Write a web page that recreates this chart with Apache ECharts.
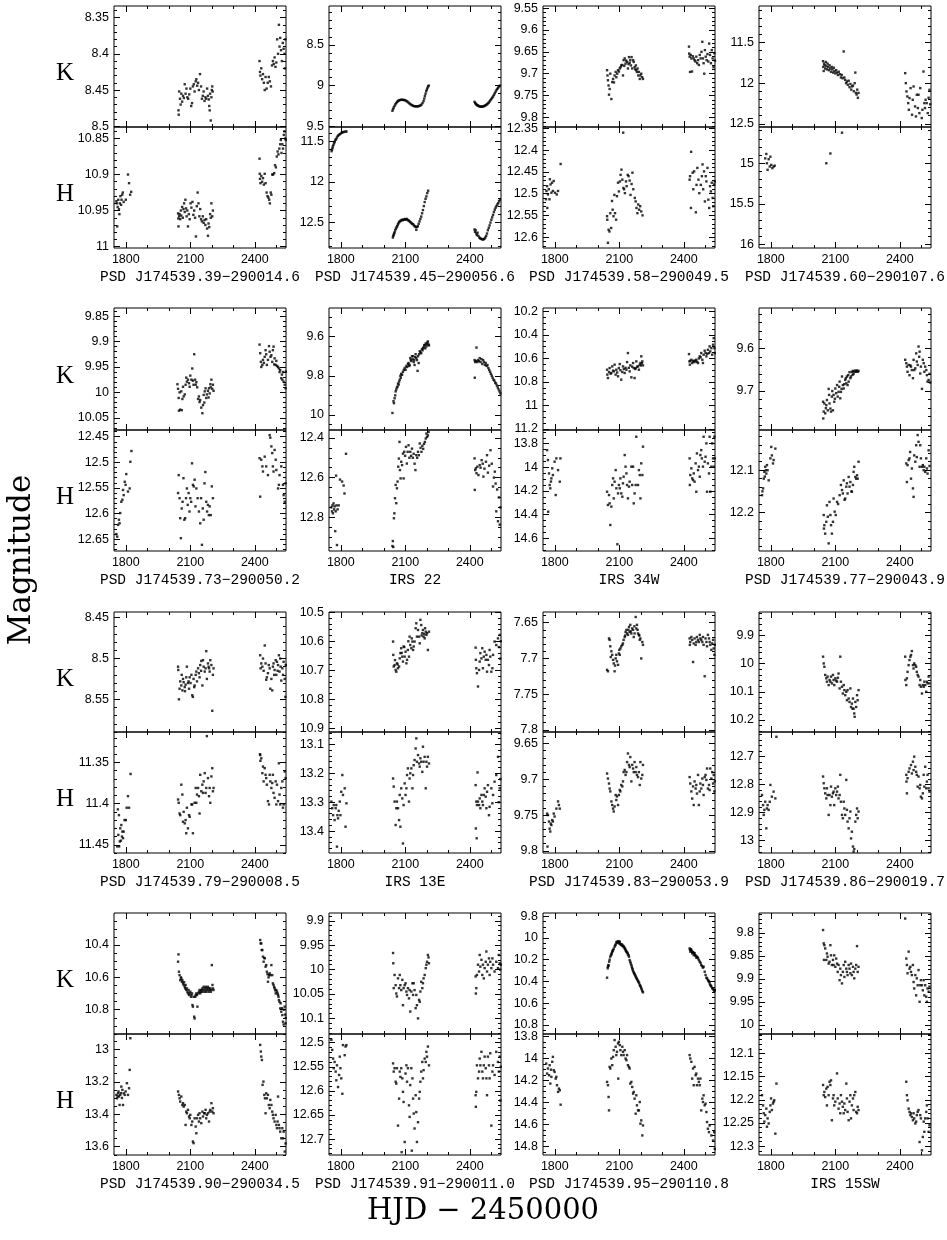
<!DOCTYPE html>
<html><head><meta charset="utf-8">
<script src="https://cdn.jsdelivr.net/npm/echarts@6/dist/echarts.min.js"></script>
<style>html,body{margin:0;padding:0;background:#fff}#c{width:947px;height:1240px}</style>
</head><body><div id="c"></div>
<script>
const XMIN = 1745, XMAX = 2545;
const X_TICKS = [1800, 2100, 2400];
const X_MINOR = [1900, 2000, 2200, 2300, 2500];
const NAMES = ["PSD J174539.39\u2212290014.6","PSD J174539.45\u2212290056.6","PSD J174539.58\u2212290049.5","PSD J174539.60\u2212290107.6",
"PSD J174539.73\u2212290050.2","IRS 22","IRS 34W","PSD J174539.77\u2212290043.9",
"PSD J174539.79\u2212290008.5","IRS 13E","PSD J174539.83\u2212290053.9","PSD J174539.86\u2212290019.7",
"PSD J174539.90\u2212290034.5","PSD J174539.91\u2212290011.0","PSD J174539.95\u2212290110.8","IRS 15SW"];
const K_RANGE = [[8.334,8.501],[8.02,9.51],[9.545,9.822],[11.05,12.54],[9.834,10.074],[9.454,10.077],[10.17,11.21],[9.506,9.791],
[8.443,8.59],[10.499,10.913],[7.635,7.803],[9.816,10.243],[10.202,10.95],[9.884,10.132],[9.772,10.883],[9.757,10.02]];
const H_RANGE = [[10.834,11.002],[11.32,12.82],[12.347,12.625],[14.555,16.04],[12.437,12.673],[12.36,12.97],[13.684,14.707],[12.005,12.291],
[11.313,11.46],[13.057,13.476],[9.634,9.803],[12.612,13.044],[12.906,13.651],[12.482,12.733],[13.775,14.876],[12.058,12.319]];
const K_TICKS = [[8.35,8.4,8.45,8.5],[8.5,9,9.5],[9.55,9.6,9.65,9.7,9.75,9.8],[11.5,12,12.5],[9.85,9.9,9.95,10,10.05],[9.6,9.8,10],
[10.2,10.4,10.6,10.8,11,11.2],[9.6,9.7],[8.45,8.5,8.55],[10.5,10.6,10.7,10.8,10.9],[7.65,7.7,7.75,7.8],[9.9,10,10.1,10.2],
[10.4,10.6,10.8],[9.9,9.95,10,10.05,10.1],[9.8,10,10.2,10.4,10.6,10.8],[9.8,9.85,9.9,9.95,10]];
const H_TICKS = [[10.85,10.9,10.95,11],[11.5,12,12.5],[12.35,12.4,12.45,12.5,12.55,12.6],[15,15.5,16],[12.45,12.5,12.55,12.6,12.65],
[12.4,12.6,12.8],[13.8,14,14.2,14.4,14.6],[12.1,12.2],[11.35,11.4,11.45],[13.1,13.2,13.3,13.4],[9.65,9.7,9.75,9.8],[12.7,12.8,12.9,13],
[13,13.2,13.4,13.6],[12.5,12.55,12.6,12.65,12.7],[13.8,14,14.2,14.4,14.6,14.8],[12.1,12.15,12.2,12.25,12.3]];
const K_MINOR = [0.01,0.1,0.01,0.1,0.01,0.05,0.05,0.02,0.01,0.02,0.01,0.02,0.05,0.01,0.05,0.01];
const H_MINOR = [0.01,0.1,0.01,0.1,0.01,0.05,0.05,0.02,0.01,0.02,0.01,0.02,0.05,0.01,0.05,0.01];

const K1 = [[2045,8.478],[2046,8.484],[2048,8.452],[2052,8.462],[2055,8.47],[2058,8.455],[2062,8.466],[2066,8.458],[2070,8.461],[2074,8.442],[2078,8.455],[2082,8.448],[2086,8.46],[2090,8.462],[2095,8.456],[2100,8.448],[2104,8.472],[2108,8.468],[2112,8.445],[2116,8.442],[2120,8.452],[2125,8.438],[2128,8.435],[2132,8.444],[2136,8.44],[2140,8.45],[2145,8.428],[2150,8.445],[2154,8.462],[2158,8.458],[2162,8.452],[2166,8.465],[2170,8.46],[2174,8.462],[2178,8.448],[2182,8.458],[2186,8.463],[2188,8.472],[2190,8.478],[2192,8.455],[2195,8.492],[2198,8.46],[2200,8.45],[2202,8.445],[2204,8.452],
[2422,8.41],[2424,8.425],[2426,8.43],[2430,8.42],[2434,8.435],[2438,8.428],[2442,8.44],[2446,8.45],[2450,8.432],[2455,8.448],[2460,8.44],[2465,8.432],[2470,8.438],[2475,8.445],[2480,8.416],[2484,8.41],[2488,8.414],[2492,8.405],[2496,8.418],[2500,8.412],[2504,8.38],[2508,8.4],[2512,8.36],[2515,8.39],[2518,8.378],[2522,8.395],[2526,8.41],[2530,8.385],[2534,8.393],[2538,8.4],[2540,8.42],[2542,8.38]];
const H1 = [[1756,10.937],[1758,10.94],[1760,10.972],[1762,10.945],[1765,10.935],[1768,10.948],[1770,10.955],[1772,10.94],[1775,10.93],[1778,10.942],[1780,10.935],[1783,10.928],[1786,10.925],[1790,10.938],[1800,10.935],[1810,10.9],[1815,10.912],[1820,10.928],[1825,10.924],
[2043,10.954],[2044,10.961],[2045,10.972],[2048,10.958],[2050,10.955],[2053,10.962],[2056,10.95],[2058,10.957],[2062,10.945],[2065,10.96],[2068,10.948],[2071,10.94],[2074,10.952],[2077,10.935],[2080,10.947],[2083,10.958],[2086,10.95],[2089,10.972],[2093,10.955],[2097,10.962],[2101,10.94],[2105,10.946],[2110,10.938],[2114,10.956],[2118,10.95],[2122,10.96],[2126,10.986],[2130,10.944],[2134,10.925],[2138,10.94],[2142,10.958],[2146,10.948],[2150,10.962],[2154,10.965],[2158,10.958],[2162,10.967],[2166,10.963],[2170,10.97],[2174,10.962],[2178,10.975],[2182,10.985],[2185,10.968],[2188,10.973],[2192,10.955],[2195,10.96],[2198,10.94],[2202,10.958],[2205,10.95],
[2422,10.878],[2423,10.899],[2424,10.906],[2426,10.912],[2430,10.902],[2434,10.91],[2438,10.905],[2442,10.914],[2446,10.899],[2450,10.912],[2455,10.925],[2459,10.93],[2463,10.932],[2467,10.935],[2470,10.94],[2474,10.925],[2477,10.928],[2481,10.9],[2485,10.9],[2490,10.898],[2494,10.887],[2498,10.89],[2502,10.875],[2506,10.868],[2510,10.872],[2514,10.864],[2518,10.858],[2521,10.852],[2524,10.87],[2528,10.858],[2531,10.864],[2535,10.845],[2538,10.84],[2541,10.85],[2544,10.852]];
const K2 = [[2040,9.31],[2043,9.29],[2046,9.27],[2050,9.25],[2054,9.23],[2058,9.215],[2062,9.2],[2066,9.19],[2070,9.183],[2075,9.178],[2080,9.175],[2085,9.175],[2090,9.176],[2095,9.178],[2100,9.182],[2105,9.19],[2110,9.198],[2115,9.21],[2120,9.222],[2125,9.232],[2130,9.24],[2135,9.248],[2140,9.252],[2145,9.255],[2150,9.256],[2155,9.256],[2160,9.255],[2165,9.25],[2170,9.245],[2175,9.235],[2180,9.215],[2185,9.19],[2188,9.16],[2191,9.13],[2194,9.1],[2197,9.07],[2200,9.05],[2203,9.03],[2206,9.01],[2209,9.0],
[2422,9.2],[2425,9.215],[2428,9.225],[2431,9.235],[2434,9.24],[2437,9.245],[2440,9.25],[2444,9.255],[2448,9.258],[2452,9.26],[2456,9.26],[2460,9.258],[2464,9.255],[2468,9.25],[2472,9.245],[2476,9.238],[2480,9.23],[2484,9.22],[2488,9.21],[2492,9.195],[2496,9.18],[2500,9.165],[2504,9.15],[2508,9.135],[2512,9.115],[2516,9.095],[2520,9.075],[2524,9.055],[2528,9.04],[2532,9.025],[2536,9.01],[2540,9.0]];
const H2 = [[1757,11.62],[1759,11.6],[1761,11.58],[1763,11.56],[1766,11.54],[1769,11.52],[1772,11.5],[1775,11.48],[1778,11.47],[1782,11.45],[1786,11.43],[1790,11.42],[1795,11.41],[1800,11.4],[1805,11.39],[1810,11.385],[1815,11.38],[1822,11.378],[1826,11.375],
[2042,12.69],[2044,12.67],[2046,12.655],[2048,12.64],[2050,12.625],[2053,12.6],[2056,12.58],[2059,12.565],[2062,12.55],[2065,12.53],[2068,12.515],[2071,12.5],[2074,12.49],[2077,12.485],[2080,12.48],[2084,12.47],[2088,12.475],[2092,12.465],[2096,12.47],[2100,12.46],[2104,12.468],[2108,12.46],[2112,12.475],[2116,12.48],[2120,12.49],[2124,12.5],[2128,12.51],[2132,12.52],[2136,12.525],[2140,12.54],[2144,12.55],[2148,12.56],[2151,12.595],[2154,12.56],[2158,12.55],[2162,12.52],[2166,12.49],[2170,12.46],[2174,12.43],[2178,12.39],[2182,12.35],[2186,12.3],[2190,12.25],[2194,12.21],[2198,12.18],[2202,12.14],[2206,12.11],
[2422,12.59],[2424,12.62],[2427,12.6],[2430,12.64],[2433,12.66],[2436,12.63],[2440,12.67],[2444,12.69],[2448,12.7],[2452,12.705],[2456,12.71],[2460,12.715],[2464,12.712],[2468,12.705],[2472,12.69],[2476,12.67],[2480,12.64],[2484,12.6],[2488,12.57],[2492,12.54],[2496,12.505],[2500,12.47],[2504,12.44],[2508,12.41],[2512,12.375],[2516,12.345],[2520,12.32],[2524,12.3],[2528,12.28],[2532,12.265],[2536,12.24],[2540,12.22]];
const K3 = [[2043,9.692],[2045,9.704],[2047,9.715],[2050,9.727],[2052,9.748],[2055,9.735],[2058,9.7],[2063,9.758],[2067,9.719],[2071,9.712],[2075,9.72],[2078,9.704],[2083,9.696],[2086,9.708],[2090,9.7],[2094,9.692],[2098,9.695],[2102,9.688],[2106,9.685],[2109,9.681],[2113,9.68],[2117,9.704],[2120,9.669],[2123,9.682],[2125,9.665],[2129,9.677],[2132,9.67],[2136,9.673],[2140,9.688],[2143,9.678],[2145,9.662],[2148,9.675],[2151,9.669],[2154,9.681],[2157,9.662],[2160,9.688],[2164,9.669],[2167,9.673],[2171,9.685],[2174,9.69],[2177,9.681],[2179,9.692],[2182,9.696],[2185,9.688],[2188,9.704],[2191,9.696],[2195,9.712],[2198,9.704],[2202,9.7],[2206,9.708],[2210,9.712],
[2424,9.638],[2425,9.654],[2427,9.661],[2429,9.696],[2432,9.657],[2435,9.665],[2438,9.695],[2442,9.66],[2446,9.665],[2450,9.669],[2454,9.672],[2458,9.661],[2462,9.676],[2466,9.669],[2470,9.68],[2474,9.657],[2478,9.665],[2482,9.65],[2486,9.627],[2489,9.665],[2492,9.676],[2495,9.7],[2498,9.646],[2502,9.661],[2506,9.669],[2510,9.655],[2514,9.672],[2518,9.631],[2522,9.657],[2526,9.676],[2530,9.646],[2534,9.665],[2538,9.685],[2542,9.653],[2545,9.67]];
const H3 = [[1759,12.513],[1761,12.494],[1764,12.483],[1765,12.533],[1768,12.502],[1772,12.49],[1775,12.513],[1777,12.467],[1780,12.479],[1784,12.498],[1787,12.475],[1791,12.494],[1795,12.471],[1801,12.498],[1809,12.502],[1815,12.494],[1827,12.432],
[2043,12.552],[2044,12.56],[2047,12.613],[2050,12.583],[2054,12.587],[2058,12.545],[2062,12.579],[2066,12.517],[2069,12.537],[2073,12.552],[2077,12.503],[2080,12.545],[2085,12.56],[2089,12.506],[2094,12.475],[2098,12.495],[2103,12.472],[2106,12.457],[2110,12.445],[2114,12.468],[2118,12.36],[2119,12.487],[2122,12.49],[2126,12.499],[2131,12.472],[2134,12.483],[2139,12.457],[2143,12.46],[2148,12.47],[2152,12.503],[2157,12.478],[2161,12.452],[2165,12.49],[2172,12.51],[2176,12.518],[2180,12.533],[2184,12.545],[2188,12.525],[2192,12.537],[2197,12.529],[2202,12.541],[2208,12.55],
[2427,12.468],[2429,12.46],[2433,12.533],[2434,12.404],[2441,12.452],[2444,12.49],[2448,12.449],[2456,12.543],[2459,12.48],[2463,12.441],[2468,12.468],[2472,12.499],[2479,12.48],[2484,12.46],[2487,12.433],[2490,12.49],[2494,12.449],[2498,12.518],[2502,12.46],[2505,12.472],[2510,12.441],[2514,12.514],[2518,12.533],[2522,12.483],[2526,12.495],[2530,12.475],[2534,12.51],[2537,12.529],[2541,12.479],[2544,12.472]];
const K4 = [[2043,11.73],[2044,11.8],[2046,11.85],[2048,11.76],[2050,11.78],[2053,11.82],[2056,11.74],[2058,11.79],[2061,11.83],[2064,11.76],[2067,11.8],[2070,11.84],[2073,11.78],[2076,11.82],[2080,11.86],[2083,11.8],[2086,11.83],[2090,11.87],[2093,11.81],[2096,11.85],[2100,11.88],[2104,11.84],[2108,11.87],[2112,11.9],[2116,11.86],[2122,11.89],[2126,11.93],[2130,11.9],[2134,11.94],[2139,11.61],[2142,11.93],[2146,11.96],[2150,12.0],[2154,11.98],[2158,12.02],[2162,11.97],[2166,12.05],[2170,12.01],[2174,12.08],[2178,12.04],[2182,12.03],[2186,12.1],[2190,12.0],[2193,11.87],[2196,12.12],[2199,12.14],[2202,12.08],[2205,12.18],[2208,12.12],
[2425,11.877],[2428,12.0],[2431,12.102],[2435,12.164],[2439,12.246],[2442,12.328],[2445,12.184],[2450,12.061],[2457,12.389],[2460,12.205],[2464,12.041],[2471,12.287],[2475,12.41],[2479,12.143],[2484,12.307],[2487,12.143],[2491,12.369],[2495,12.061],[2502,12.43],[2505,12.328],[2510,11.857],[2514,12.246],[2517,12.307],[2520,12.205],[2525,12.246],[2530,12.369],[2534,12.18],[2538,12.082],[2541,12.26]];
const H4 = [[1774,14.94],[1779,14.886],[1782,15.0],[1785,15.08],[1790,14.95],[1795,15.04],[1798,14.92],[1802,15.02],[1807,15.06],[1813,15.04],[1818,15.03],
[2058,15.0],[2077,14.88],[2131,14.625]];
const K5 = [[2040,9.984],[2043,9.993],[2046,10.011],[2047,10.036],[2050,10.0],[2053,10.034],[2058,9.998],[2060,10.035],[2063,10.013],[2066,9.989],[2069,10.008],[2074,10.004],[2078,9.985],[2081,9.971],[2084,9.979],[2089,9.975],[2094,9.982],[2097,9.989],[2100,9.967],[2105,9.975],[2109,9.953],[2112,9.977],[2115,9.985],[2118,9.925],[2122,9.975],[2125,9.985],[2128,9.98],[2132,9.99],[2136,10.013],[2140,10.008],[2143,10.019],[2146,10.015],[2151,10.03],[2156,10.041],[2159,10.025],[2162,10.005],[2165,10.02],[2167,9.998],[2171,9.992],[2174,10.011],[2177,10.004],[2182,9.997],[2185,10.01],[2187,9.992],[2190,10.002],[2193,9.984],[2195,9.99],[2198,9.975],[2202,9.993],[2205,9.985],[2208,9.997],
[2422,9.906],[2425,9.923],[2428,9.94],[2430,9.95],[2435,9.946],[2438,9.936],[2442,9.942],[2446,9.93],[2450,9.917],[2453,9.925],[2456,9.946],[2461,9.936],[2466,9.909],[2469,9.92],[2473,9.93],[2477,9.927],[2481,9.94],[2484,9.917],[2487,9.91],[2490,9.945],[2492,9.933],[2497,9.946],[2500,9.938],[2503,9.948],[2508,9.95],[2512,9.953],[2515,9.96],[2518,9.956],[2523,9.972],[2526,9.965],[2528,9.975],[2531,9.96],[2534,9.979],[2539,9.985],[2543,9.992],[2544,9.959]];
const H5 = [[1756,12.64],[1760,12.645],[1764,12.622],[1768,12.612],[1771,12.619],[1774,12.599],[1779,12.577],[1784,12.573],[1787,12.554],[1790,12.564],[1795,12.538],[1799,12.544],[1802,12.523],[1810,12.557],[1818,12.551],[1821,12.499],[1826,12.478],
[2043,12.56],[2046,12.525],[2050,12.57],[2053,12.609],[2056,12.648],[2060,12.59],[2064,12.577],[2068,12.531],[2072,12.612],[2076,12.609],[2080,12.57],[2084,12.551],[2088,12.583],[2092,12.56],[2096,12.596],[2100,12.57],[2104,12.577],[2108,12.502],[2112,12.544],[2116,12.547],[2120,12.534],[2124,12.586],[2128,12.551],[2134,12.57],[2140,12.596],[2146,12.619],[2150,12.57],[2154,12.661],[2158,12.59],[2162,12.612],[2166,12.541],[2170,12.519],[2174,12.577],[2178,12.596],[2182,12.583],[2186,12.603],[2190,12.586],[2195,12.603],[2200,12.547],[2205,12.57],
[2422,12.492],[2425,12.567],[2430,12.495],[2435,12.508],[2438,12.518],[2446,12.489],[2453,12.508],[2461,12.525],[2469,12.447],[2472,12.452],[2477,12.469],[2481,12.482],[2484,12.508],[2487,12.518],[2492,12.476],[2497,12.495],[2500,12.515],[2508,12.551],[2512,12.544],[2515,12.525],[2523,12.508],[2531,12.544],[2534,12.564],[2539,12.577],[2543,12.541]];
const K6 = [[2040,9.99],[2045,9.93],[2047,9.94],[2050,9.915],[2053,9.9],[2055,9.88],[2058,9.87],[2061,9.86],[2064,9.855],[2066,9.84],[2069,9.845],[2071,9.83],[2074,9.82],[2077,9.8],[2079,9.81],[2081,9.79],[2085,9.795],[2089,9.78],[2093,9.77],[2097,9.76],[2101,9.77],[2105,9.75],[2108,9.755],[2112,9.74],[2115,9.735],[2118,9.75],[2120,9.745],[2123,9.71],[2126,9.72],[2128,9.725],[2131,9.7],[2134,9.715],[2136,9.7],[2139,9.73],[2141,9.72],[2143,9.745],[2146,9.705],[2148,9.69],[2151,9.71],[2154,9.72],[2157,9.775],[2159,9.7],[2162,9.735],[2164,9.69],[2167,9.675],[2170,9.68],[2174,9.685],[2177,9.665],[2180,9.67],[2182,9.66],[2185,9.655],[2188,9.645],[2190,9.643],[2193,9.66],[2195,9.635],[2198,9.65],[2201,9.64],[2203,9.63],[2205,9.625],[2208,9.64],[2210,9.645],
[2422,9.72],[2423,9.81],[2425,9.73],[2428,9.725],[2431,9.656],[2435,9.73],[2438,9.72],[2442,9.725],[2446,9.71],[2450,9.73],[2454,9.715],[2458,9.74],[2462,9.72],[2466,9.73],[2470,9.745],[2474,9.735],[2478,9.75],[2482,9.745],[2486,9.76],[2490,9.77],[2494,9.78],[2498,9.79],[2502,9.8],[2506,9.81],[2510,9.82],[2514,9.825],[2518,9.835],[2522,9.84],[2526,9.85],[2530,9.86],[2534,9.87],[2538,9.88],[2542,9.89]];
const H6 = [[1756,12.75],[1759,12.77],[1761,12.74],[1763,12.78],[1766,12.73],[1769,12.76],[1771,12.745],[1774,12.87],[1776,12.77],[1778,12.59],[1780,12.74],[1782,12.94],[1785,12.76],[1790,12.74],[1796,12.61],[1806,12.62],[1813,12.64],[1817,12.68],[1824,12.48],
[2040,12.945],[2042,12.92],[2044,12.95],[2047,12.805],[2049,12.78],[2052,12.704],[2055,12.637],[2058,12.729],[2061,12.654],[2064,12.62],[2067,12.545],[2070,12.504],[2073,12.42],[2075,12.562],[2078,12.604],[2081,12.52],[2085,12.537],[2089,12.479],[2092,12.604],[2095,12.47],[2099,12.49],[2103,12.445],[2107,12.529],[2111,12.47],[2115,12.437],[2119,12.5],[2123,12.47],[2127,12.49],[2131,12.454],[2135,12.5],[2139,12.48],[2143,12.53],[2147,12.562],[2151,12.487],[2155,12.5],[2159,12.47],[2163,12.487],[2167,12.428],[2171,12.45],[2175,12.47],[2179,12.44],[2183,12.455],[2187,12.43],[2191,12.42],[2195,12.403],[2198,12.378],[2201,12.395],[2205,12.387],[2208,12.37],
[2422,12.503],[2423,12.662],[2425,12.562],[2428,12.553],[2431,12.578],[2435,12.545],[2440,12.587],[2446,12.537],[2450,12.55],[2455,12.512],[2460,12.53],[2463,12.595],[2468,12.555],[2475,12.52],[2480,12.487],[2484,12.575],[2490,12.54],[2496,12.462],[2502,12.53],[2508,12.645],[2512,12.6],[2516,12.57],[2520,12.63],[2523,12.77],[2527,12.66],[2531,12.82],[2535,12.7],[2539,12.837],[2542,12.75]];
const K7 = [[2043,10.696],[2044,10.738],[2047,10.767],[2052,10.716],[2055,10.682],[2059,10.73],[2063,10.724],[2067,10.668],[2071,10.704],[2075,10.71],[2078,10.653],[2083,10.738],[2086,10.696],[2090,10.72],[2094,10.752],[2098,10.682],[2102,10.648],[2105,10.7],[2109,10.781],[2114,10.716],[2117,10.668],[2121,10.69],[2125,10.724],[2129,10.68],[2133,10.696],[2136,10.631],[2140,10.554],[2144,10.68],[2148,10.71],[2151,10.659],[2156,10.761],[2160,10.67],[2164,10.639],[2167,10.682],[2171,10.767],[2174,10.69],[2176,10.682],[2179,10.625],[2183,10.67],[2187,10.668],[2191,10.696],[2195,10.653],[2198,10.639],[2200,10.66],[2202,10.582],[2205,10.64],[2207,10.625],[2210,10.659],
[2424,10.563],[2426,10.625],[2428,10.653],[2430,10.62],[2435,10.611],[2439,10.639],[2443,10.625],[2446,10.619],[2450,10.631],[2454,10.62],[2458,10.611],[2462,10.63],[2466,10.639],[2470,10.6],[2474,10.582],[2478,10.59],[2481,10.554],[2486,10.611],[2489,10.639],[2492,10.568],[2497,10.534],[2501,10.554],[2505,10.582],[2509,10.56],[2512,10.526],[2517,10.554],[2520,10.497],[2523,10.54],[2528,10.512],[2532,10.568],[2536,10.483],[2539,10.427],[2542,10.512],[2544,10.554]];
const H7 = [[1764,13.854],[1768,13.938],[1769,14.375],[1773,14.051],[1776,14.149],[1779,14.177],[1782,14.12],[1784,14.093],[1788,14.008],[1791,14.065],[1799,13.952],[1804,14.234],[1807,13.924],[1815,14.023],[1823,14.121],[1826,13.924],
[2043,14.206],[2047,14.318],[2052,14.234],[2055,14.304],[2058,14.487],[2063,14.332],[2067,14.149],[2071,14.093],[2074,14.262],[2078,14.121],[2083,14.023],[2086,14.177],[2091,14.65],[2094,14.22],[2098,14.149],[2102,14.177],[2105,14.093],[2109,14.22],[2114,14.248],[2117,14.135],[2120,14.079],[2125,13.896],[2129,13.994],[2133,14.051],[2136,14.149],[2140,14.262],[2145,14.163],[2148,14.121],[2156,13.994],[2160,14.149],[2164,13.994],[2167,14.304],[2171,14.22],[2176,14.149],[2179,13.741],[2187,14.149],[2191,14.023],[2195,14.065],[2198,14.262],[2202,13.966],[2207,14.065],[2210,13.825],
[2427,13.924],[2428,14.149],[2430,14.065],[2435,14.008],[2439,14.093],[2443,14.107],[2446,14.051],[2450,14.121],[2455,13.966],[2458,14.206],[2461,13.882],[2466,14.023],[2470,13.994],[2474,14.079],[2477,13.896],[2481,13.854],[2484,13.924],[2489,13.994],[2492,13.741],[2497,13.952],[2501,13.91],[2505,13.797],[2508,14.206],[2512,13.966],[2517,14.051],[2520,13.741],[2523,14.206],[2528,13.994],[2532,13.797],[2536,13.924],[2539,13.994],[2542,13.741],[2544,13.924]];
const K8 = [[2043,9.725],[2044,9.764],[2046,9.748],[2049,9.729],[2053,9.752],[2056,9.74],[2058,9.733],[2061,9.721],[2065,9.745],[2069,9.695],[2071,9.709],[2073,9.729],[2077,9.741],[2080,9.748],[2084,9.713],[2086,9.7],[2089,9.745],[2092,9.709],[2095,9.725],[2098,9.718],[2100,9.694],[2104,9.705],[2108,9.686],[2111,9.713],[2115,9.702],[2118,9.69],[2120,9.678],[2123,9.717],[2126,9.702],[2129,9.695],[2131,9.666],[2135,9.686],[2139,9.694],[2142,9.684],[2146,9.674],[2149,9.67],[2151,9.682],[2154,9.666],[2157,9.686],[2160,9.663],[2162,9.678],[2166,9.656],[2170,9.67],[2173,9.666],[2177,9.655],[2180,9.662],[2182,9.653],[2185,9.66],[2188,9.655],[2193,9.652],[2197,9.655],[2201,9.652],[2204,9.655],[2208,9.653],
[2425,9.627],[2430,9.635],[2433,9.643],[2436,9.655],[2441,9.639],[2445,9.663],[2449,9.64],[2452,9.643],[2456,9.651],[2461,9.67],[2464,9.627],[2467,9.651],[2472,9.647],[2476,9.612],[2479,9.631],[2483,9.639],[2487,9.596],[2490,9.62],[2492,9.608],[2495,9.659],[2498,9.643],[2503,9.695],[2507,9.627],[2511,9.635],[2514,9.655],[2518,9.643],[2523,9.651],[2526,9.663],[2529,9.678],[2534,9.674],[2538,9.66],[2541,9.68]];
const H8 = [[1759,12.159],[1761,12.15],[1764,12.143],[1767,12.12],[1770,12.104],[1772,12.115],[1774,12.092],[1777,12.1],[1779,12.108],[1782,12.088],[1785,12.1],[1790,12.124],[1798,12.072],[1802,12.045],[1805,12.065],[1810,12.084],[1813,12.076],[1821,12.049],
[2046,12.206],[2047,12.238],[2049,12.23],[2053,12.25],[2058,12.222],[2061,12.183],[2065,12.21],[2069,12.273],[2073,12.175],[2077,12.206],[2080,12.23],[2084,12.25],[2089,12.222],[2092,12.167],[2097,12.198],[2102,12.206],[2108,12.175],[2113,12.18],[2120,12.159],[2126,12.135],[2131,12.147],[2135,12.155],[2139,12.124],[2143,12.17],[2146,12.167],[2151,12.139],[2154,12.131],[2157,12.155],[2162,12.116],[2166,12.139],[2170,12.128],[2175,12.15],[2177,12.151],[2182,12.135],[2185,12.104],[2188,12.092],[2193,12.116],[2197,12.12],[2201,12.112],[2204,12.12],[2208,12.08],
[2430,12.084],[2433,12.128],[2436,12.088],[2441,12.076],[2445,12.072],[2448,12.057],[2452,12.12],[2456,12.096],[2461,12.143],[2464,12.163],[2467,12.065],[2472,12.08],[2476,12.041],[2479,12.069],[2483,12.017],[2487,12.033],[2492,12.092],[2495,12.041],[2498,12.072],[2503,12.092],[2507,12.088],[2511,12.1],[2514,12.092],[2518,12.104],[2523,12.072],[2526,12.096],[2529,12.108],[2534,12.053],[2538,12.09]];
const K9 = [[2043,8.51],[2044,8.514],[2047,8.55],[2050,8.537],[2053,8.528],[2058,8.533],[2060,8.52],[2063,8.539],[2066,8.525],[2069,8.529],[2074,8.535],[2075,8.54],[2078,8.532],[2081,8.523],[2084,8.51],[2089,8.53],[2092,8.528],[2094,8.537],[2097,8.523],[2101,8.53],[2105,8.52],[2109,8.545],[2112,8.547],[2115,8.525],[2118,8.535],[2120,8.533],[2125,8.52],[2128,8.516],[2131,8.528],[2136,8.512],[2140,8.518],[2143,8.523],[2146,8.508],[2150,8.515],[2151,8.503],[2156,8.533],[2159,8.502],[2162,8.51],[2167,8.516],[2171,8.512],[2174,8.491],[2177,8.525],[2182,8.506],[2185,8.51],[2187,8.512],[2190,8.516],[2193,8.502],[2198,8.508],[2202,8.564],[2205,8.52],[2208,8.512],
[2425,8.496],[2427,8.512],[2430,8.506],[2435,8.51],[2438,8.5],[2441,8.515],[2446,8.484],[2450,8.506],[2453,8.526],[2456,8.523],[2461,8.518],[2465,8.508],[2469,8.512],[2472,8.537],[2477,8.525],[2481,8.539],[2484,8.51],[2487,8.506],[2490,8.52],[2492,8.514],[2497,8.502],[2500,8.52],[2503,8.504],[2506,8.515],[2508,8.508],[2512,8.496],[2515,8.516],[2518,8.5],[2520,8.51],[2523,8.527],[2528,8.512],[2531,8.52],[2534,8.504],[2539,8.525],[2542,8.547],[2544,8.508]];
const H9 = [[1760,11.452],[1763,11.407],[1765,11.438],[1768,11.414],[1769,11.452],[1772,11.446],[1774,11.43],[1777,11.445],[1779,11.426],[1782,11.44],[1784,11.434],[1787,11.442],[1790,11.434],[1794,11.42],[1800,11.42],[1804,11.405],[1810,11.391],[1815,11.405],[1822,11.364],
[2043,11.395],[2046,11.399],[2050,11.412],[2053,11.414],[2058,11.377],[2063,11.389],[2066,11.422],[2069,11.41],[2074,11.424],[2078,11.42],[2081,11.436],[2084,11.405],[2089,11.43],[2094,11.414],[2097,11.416],[2105,11.401],[2109,11.401],[2112,11.436],[2120,11.399],[2125,11.381],[2128,11.399],[2131,11.389],[2136,11.381],[2140,11.391],[2143,11.412],[2146,11.365],[2151,11.385],[2156,11.377],[2159,11.387],[2162,11.373],[2167,11.363],[2171,11.387],[2174,11.381],[2177,11.318],[2182,11.369],[2187,11.391],[2190,11.381],[2193,11.399],[2198,11.367],[2202,11.357],[2205,11.385],[2208,11.381],
[2424,11.34],[2425,11.341],[2426,11.348],[2430,11.345],[2435,11.363],[2438,11.355],[2441,11.373],[2446,11.357],[2450,11.365],[2453,11.369],[2456,11.377],[2461,11.397],[2466,11.401],[2469,11.365],[2472,11.373],[2477,11.381],[2481,11.375],[2484,11.365],[2487,11.387],[2492,11.393],[2497,11.373],[2500,11.401],[2503,11.377],[2508,11.397],[2512,11.351],[2515,11.389],[2518,11.401],[2523,11.381],[2528,11.373],[2531,11.405],[2534,11.401],[2539,11.361],[2543,11.369]];
const K10 = [[2043,10.601],[2044,10.647],[2046,10.687],[2050,10.682],[2052,10.665],[2055,10.699],[2058,10.705],[2061,10.676],[2064,10.68],[2066,10.693],[2071,10.687],[2074,10.659],[2077,10.641],[2081,10.624],[2083,10.64],[2086,10.653],[2089,10.67],[2092,10.618],[2095,10.62],[2097,10.653],[2101,10.636],[2105,10.676],[2108,10.664],[2112,10.63],[2114,10.6],[2117,10.653],[2120,10.584],[2123,10.613],[2128,10.624],[2130,10.59],[2133,10.601],[2136,10.63],[2139,10.618],[2143,10.601],[2148,10.555],[2151,10.538],[2154,10.584],[2159,10.561],[2164,10.584],[2167,10.607],[2170,10.526],[2174,10.544],[2176,10.58],[2179,10.572],[2182,10.561],[2185,10.584],[2188,10.575],[2190,10.59],[2192,10.555],[2195,10.567],[2198,10.578],[2201,10.572],[2205,10.63],[2210,10.567],
[2427,10.622],[2428,10.664],[2430,10.693],[2433,10.71],[2438,10.756],[2443,10.699],[2446,10.67],[2449,10.641],[2454,10.659],[2458,10.624],[2461,10.693],[2465,10.653],[2469,10.636],[2474,10.664],[2477,10.647],[2480,10.705],[2484,10.664],[2489,10.682],[2492,10.63],[2495,10.653],[2500,10.705],[2505,10.693],[2508,10.647],[2515,10.601],[2523,10.613],[2531,10.59],[2535,10.62],[2539,10.578],[2541,10.66],[2544,10.6]];
const H10 = [[1756,13.298],[1760,13.321],[1764,13.345],[1767,13.31],[1771,13.362],[1776,13.321],[1779,13.31],[1782,13.454],[1784,13.345],[1787,13.356],[1790,13.33],[1795,13.298],[1798,13.345],[1802,13.264],[1807,13.206],[1810,13.275],[1818,13.252],[1822,13.385],[1826,13.304],
[2043,13.218],[2046,13.246],[2050,13.298],[2055,13.379],[2058,13.321],[2061,13.298],[2066,13.321],[2071,13.362],[2074,13.275],[2077,13.385],[2081,13.252],[2086,13.287],[2089,13.443],[2092,13.31],[2097,13.235],[2101,13.275],[2105,13.252],[2108,13.206],[2112,13.183],[2117,13.298],[2120,13.218],[2123,13.2],[2128,13.183],[2133,13.252],[2136,13.206],[2139,13.172],[2143,13.154],[2148,13.114],[2151,13.079],[2154,13.16],[2159,13.137],[2164,13.166],[2167,13.177],[2170,13.148],[2174,13.16],[2179,13.195],[2182,13.108],[2185,13.16],[2190,13.143],[2195,13.252],[2198,13.16],[2201,13.177],[2205,13.143],[2210,13.166],
[2427,13.241],[2428,13.391],[2430,13.298],[2432,13.425],[2433,13.31],[2436,13.197],[2438,13.298],[2443,13.31],[2446,13.287],[2449,13.321],[2454,13.275],[2458,13.298],[2461,13.31],[2465,13.275],[2469,13.252],[2474,13.281],[2477,13.321],[2480,13.264],[2484,13.241],[2489,13.345],[2492,13.316],[2500,13.252],[2505,13.304],[2508,13.275],[2515,13.229],[2523,13.206],[2531,13.143],[2535,13.3],[2539,13.252],[2542,13.22]];
const K11 = [[2043,7.716],[2047,7.718],[2052,7.672],[2055,7.674],[2058,7.683],[2060,7.698],[2063,7.69],[2067,7.695],[2071,7.702],[2074,7.707],[2078,7.718],[2080,7.71],[2083,7.7],[2086,7.695],[2089,7.704],[2094,7.709],[2098,7.693],[2100,7.688],[2102,7.695],[2105,7.686],[2109,7.683],[2114,7.681],[2117,7.679],[2120,7.674],[2125,7.67],[2127,7.668],[2129,7.663],[2133,7.66],[2136,7.665],[2140,7.667],[2142,7.66],[2145,7.656],[2148,7.663],[2151,7.653],[2153,7.662],[2156,7.665],[2160,7.658],[2164,7.66],[2167,7.67],[2170,7.655],[2171,7.665],[2176,7.642],[2179,7.658],[2182,7.653],[2185,7.66],[2187,7.665],[2191,7.667],[2193,7.668],[2195,7.674],[2198,7.672],[2202,7.7],[2207,7.677],[2210,7.681],
[2427,7.672],[2428,7.681],[2430,7.677],[2435,7.67],[2439,7.674],[2443,7.705],[2446,7.679],[2450,7.672],[2455,7.681],[2458,7.677],[2461,7.67],[2466,7.674],[2470,7.677],[2474,7.667],[2477,7.672],[2481,7.674],[2486,7.677],[2489,7.67],[2492,7.681],[2497,7.725],[2501,7.672],[2505,7.677],[2508,7.683],[2512,7.667],[2517,7.672],[2520,7.677],[2523,7.681],[2528,7.688],[2532,7.679],[2536,7.674],[2539,7.686],[2542,7.695],[2544,7.681]];
const H11 = [[1764,9.748],[1766,9.794],[1768,9.75],[1773,9.759],[1776,9.769],[1779,9.773],[1781,9.762],[1784,9.764],[1788,9.757],[1791,9.759],[1795,9.748],[1799,9.752],[1807,9.741],[1815,9.731],[1819,9.736],[1823,9.741],
[2043,9.692],[2047,9.699],[2052,9.706],[2055,9.713],[2058,9.717],[2063,9.731],[2067,9.736],[2071,9.741],[2074,9.745],[2078,9.738],[2083,9.722],[2086,9.729],[2089,9.724],[2094,9.736],[2098,9.722],[2102,9.715],[2105,9.717],[2109,9.708],[2114,9.71],[2117,9.703],[2120,9.69],[2125,9.687],[2129,9.694],[2133,9.69],[2136,9.676],[2140,9.664],[2145,9.68],[2148,9.683],[2151,9.669],[2156,9.703],[2160,9.68],[2164,9.685],[2167,9.69],[2171,9.676],[2176,9.69],[2179,9.683],[2182,9.694],[2187,9.697],[2191,9.69],[2195,9.708],[2198,9.676],[2202,9.699],[2207,9.694],[2210,9.68],
[2427,9.697],[2430,9.706],[2435,9.717],[2439,9.727],[2443,9.71],[2446,9.736],[2450,9.703],[2455,9.713],[2458,9.708],[2461,9.72],[2466,9.694],[2470,9.736],[2474,9.717],[2477,9.706],[2481,9.713],[2486,9.699],[2489,9.708],[2492,9.722],[2497,9.697],[2501,9.694],[2505,9.701],[2508,9.685],[2512,9.713],[2517,9.708],[2520,9.715],[2523,9.685],[2528,9.699],[2532,9.69],[2536,9.706],[2539,9.694],[2542,9.717],[2544,9.703]];
const K12 = [[2043,9.975],[2046,9.999],[2049,10.011],[2053,10.04],[2058,10.052],[2061,10.064],[2064,10.046],[2069,10.076],[2073,10.058],[2077,10.064],[2080,10.046],[2084,10.07],[2089,10.04],[2092,10.058],[2095,10.076],[2100,10.052],[2104,10.06],[2108,10.064],[2112,10.05],[2115,10.035],[2120,10.088],[2123,9.975],[2126,10.064],[2131,10.082],[2135,10.106],[2139,10.076],[2142,10.094],[2146,10.112],[2151,10.1],[2154,10.13],[2157,10.094],[2162,10.124],[2166,10.136],[2170,10.088],[2173,10.154],[2177,10.142],[2180,10.16],[2182,10.124],[2185,10.16],[2188,10.177],[2190,10.189],[2193,10.136],[2197,10.154],[2201,10.112],[2204,10.13],[2208,10.094],
[2425,9.975],[2426,10.058],[2430,10.076],[2433,10.052],[2436,10.029],[2441,10.005],[2445,9.987],[2449,9.975],[2452,9.969],[2456,9.955],[2461,10.005],[2464,10.017],[2467,9.999],[2472,10.005],[2476,10.011],[2479,10.029],[2483,10.04],[2487,10.046],[2492,10.076],[2495,10.058],[2498,10.082],[2503,10.106],[2507,10.076],[2511,10.082],[2514,10.064],[2518,10.076],[2523,10.1],[2526,10.064],[2529,10.07],[2534,10.046],[2538,10.07]];
const H12 = [[1759,12.837],[1764,12.873],[1767,12.908],[1770,12.89],[1774,12.861],[1779,12.956],[1782,12.885],[1785,12.873],[1790,12.89],[1795,12.861],[1798,12.801],[1805,12.843],[1813,12.825],[1821,12.849],[1826,12.629],
[2043,12.771],[2046,12.795],[2049,12.813],[2053,12.831],[2058,12.849],[2061,12.813],[2064,12.837],[2069,12.908],[2073,12.837],[2077,12.873],[2080,12.807],[2084,12.843],[2089,12.831],[2092,12.825],[2095,12.873],[2100,12.813],[2104,12.837],[2108,12.825],[2112,12.807],[2115,12.849],[2120,12.837],[2123,12.765],[2126,12.861],[2131,12.908],[2135,12.92],[2139,12.861],[2142,12.885],[2146,12.908],[2151,12.783],[2154,12.89],[2157,12.932],[2162,12.956],[2166,12.92],[2170,12.896],[2173,12.992],[2177,12.968],[2182,13.021],[2185,13.039],[2188,13.03],[2193,12.932],[2197,12.908],[2201,12.885],[2204,12.92],[2208,12.896],
[2430,12.765],[2431,12.789],[2433,12.831],[2436,12.777],[2441,12.754],[2445,12.742],[2452,12.73],[2456,12.76],[2461,12.718],[2464,12.748],[2467,12.7],[2472,12.736],[2476,12.754],[2479,12.765],[2483,12.807],[2487,12.771],[2492,12.813],[2495,12.801],[2498,12.843],[2503,12.849],[2507,12.831],[2511,12.765],[2514,12.807],[2518,12.736],[2523,12.813],[2526,12.789],[2529,12.765],[2534,12.813],[2538,12.825]];
const K13 = [[2043,10.503],[2045,10.458],[2047,10.565],[2050,10.586],[2053,10.617],[2056,10.6],[2058,10.606],[2061,10.627],[2063,10.617],[2066,10.637],[2069,10.647],[2071,10.63],[2074,10.658],[2076,10.668],[2078,10.647],[2081,10.678],[2084,10.668],[2087,10.689],[2089,10.699],[2092,10.678],[2094,10.709],[2097,10.699],[2100,10.689],[2103,10.72],[2105,10.709],[2108,10.699],[2110,10.771],[2112,10.781],[2115,10.72],[2118,10.843],[2120,10.854],[2123,10.72],[2125,10.709],[2128,10.699],[2131,10.709],[2133,10.781],[2136,10.699],[2140,10.689],[2143,10.678],[2146,10.699],[2149,10.689],[2151,10.678],[2154,10.689],[2156,10.668],[2159,10.678],[2162,10.658],[2165,10.689],[2167,10.668],[2170,10.678],[2172,10.658],[2174,10.689],[2177,10.668],[2180,10.678],[2182,10.658],[2185,10.689],[2187,10.668],[2190,10.678],[2193,10.668],[2195,10.689],[2198,10.678],[2200,10.524],[2203,10.647],[2205,10.668],[2208,10.678],
[2425,10.369],[2427,10.39],[2430,10.39],[2432,10.431],[2435,10.431],[2438,10.472],[2441,10.503],[2444,10.48],[2446,10.482],[2450,10.534],[2453,10.524],[2456,10.565],[2459,10.58],[2461,10.627],[2464,10.6],[2466,10.586],[2469,10.575],[2472,10.586],[2477,10.524],[2481,10.586],[2484,10.637],[2487,10.647],[2490,10.66],[2492,10.668],[2495,10.68],[2497,10.699],[2500,10.678],[2503,10.689],[2506,10.7],[2508,10.709],[2510,10.72],[2512,10.74],[2515,10.751],[2518,10.792],[2520,10.76],[2523,10.812],[2526,10.79],[2528,10.833],[2531,10.874],[2534,10.891],[2536,10.8],[2539,10.781],[2541,10.83],[2543,10.884],[2544,10.85]];
const H13 = [[1756,13.281],[1759,13.302],[1762,13.29],[1764,13.271],[1766,13.26],[1768,13.291],[1771,13.343],[1774,13.281],[1777,13.27],[1779,13.23],[1782,13.3],[1784,13.25],[1787,13.343],[1790,13.271],[1795,13.281],[1799,13.26],[1805,13.209],[1810,13.281],[1815,13.24],[1818,13.127],[1821,12.932],
[2043,13.26],[2047,13.281],[2050,13.302],[2053,13.322],[2058,13.291],[2063,13.343],[2066,13.332],[2069,13.353],[2074,13.343],[2078,13.466],[2081,13.384],[2084,13.394],[2089,13.373],[2094,13.414],[2097,13.425],[2100,13.404],[2105,13.466],[2109,13.445],[2112,13.568],[2115,13.578],[2120,13.425],[2125,13.476],[2128,13.517],[2131,13.425],[2136,13.404],[2140,13.445],[2143,13.394],[2146,13.425],[2151,13.455],[2156,13.384],[2159,13.414],[2164,13.394],[2167,13.394],[2171,13.373],[2174,13.425],[2177,13.404],[2182,13.394],[2187,13.445],[2190,13.384],[2193,13.373],[2198,13.332],[2202,13.384],[2205,13.363],[2208,13.394],
[2425,12.973],[2428,13.014],[2430,13.045],[2433,13.066],[2436,13.219],[2440,13.199],[2444,13.281],[2447,13.302],[2450,13.394],[2453,13.271],[2456,13.302],[2461,13.281],[2465,13.343],[2469,13.363],[2472,13.312],[2477,13.343],[2481,13.384],[2484,13.404],[2487,13.425],[2492,13.445],[2497,13.404],[2500,13.466],[2503,13.486],[2506,13.445],[2508,13.291],[2512,13.466],[2515,13.486],[2518,13.507],[2523,13.548],[2528,13.486],[2531,13.548],[2534,13.507],[2539,13.63],[2543,13.58]];
const K14 = [[2043,9.966],[2044,9.987],[2046,10.038],[2050,10.011],[2055,10.032],[2058,10.049],[2061,10.055],[2066,10.018],[2071,10.038],[2074,10.011],[2077,10.032],[2081,10.042],[2086,10.021],[2089,10.073],[2092,10.038],[2097,10.032],[2101,10.028],[2105,10.045],[2108,10.052],[2112,10.038],[2117,10.059],[2120,10.042],[2123,10.086],[2128,10.045],[2133,10.028],[2136,10.052],[2139,10.028],[2143,10.042],[2148,10.079],[2151,10.052],[2154,10.073],[2159,10.1],[2164,10.062],[2167,10.066],[2170,10.045],[2174,10.025],[2179,10.038],[2182,10.028],[2185,10.018],[2190,10.011],[2195,9.997],[2198,9.99],[2201,9.984],[2205,9.97],[2208,9.975],[2210,9.987],
[2427,10.014],[2428,10.049],[2430,10.038],[2433,10.011],[2438,9.99],[2443,10.004],[2446,9.97],[2449,9.994],[2454,9.98],[2458,10.011],[2461,9.99],[2465,10.018],[2469,9.997],[2474,9.984],[2477,9.963],[2480,10.004],[2484,9.99],[2489,9.977],[2492,10.011],[2495,9.984],[2500,9.997],[2505,9.977],[2508,9.99],[2515,10.004],[2523,9.984],[2531,9.997],[2535,9.97],[2539,9.987],[2541,10.0],[2544,9.99]];
const H14 = [[1756,12.494],[1760,12.515],[1764,12.533],[1767,12.553],[1771,12.54],[1776,12.56],[1779,12.578],[1782,12.547],[1787,12.592],[1792,12.567],[1795,12.529],[1798,12.553],[1802,12.574],[1807,12.606],[1810,12.505],[1818,12.526],[1822,12.508],[1826,12.505],
[2043,12.543],[2046,12.56],[2050,12.553],[2055,12.581],[2058,12.585],[2061,12.553],[2066,12.672],[2071,12.616],[2074,12.56],[2077,12.571],[2081,12.553],[2083,12.727],[2086,12.574],[2089,12.602],[2092,12.623],[2097,12.706],[2101,12.564],[2105,12.547],[2108,12.581],[2112,12.553],[2117,12.63],[2120,12.654],[2123,12.588],[2128,12.553],[2130,12.724],[2133,12.574],[2136,12.616],[2139,12.647],[2143,12.678],[2148,12.609],[2151,12.644],[2154,12.706],[2159,12.665],[2164,12.616],[2167,12.602],[2170,12.581],[2174,12.56],[2179,12.54],[2182,12.574],[2185,12.557],[2190,12.533],[2195,12.54],[2198,12.519],[2201,12.529],[2205,12.508],[2210,12.547],
[2427,12.609],[2428,12.633],[2430,12.602],[2433,12.547],[2438,12.574],[2443,12.56],[2446,12.533],[2449,12.547],[2454,12.519],[2458,12.56],[2461,12.574],[2465,12.547],[2469,12.529],[2474,12.553],[2477,12.574],[2480,12.609],[2484,12.529],[2489,12.547],[2492,12.574],[2495,12.522],[2500,12.672],[2505,12.56],[2508,12.547],[2515,12.567],[2523,12.519],[2531,12.54],[2535,12.56],[2539,12.529],[2542,12.62],[2544,12.55]];
const K15 = [[2043,10.366],[2046,10.28],[2047,10.265],[2049,10.25],[2050,10.255],[2053,10.219],[2055,10.2],[2058,10.173],[2061,10.16],[2063,10.152],[2065,10.14],[2067,10.127],[2069,10.12],[2071,10.112],[2074,10.1],[2078,10.081],[2081,10.07],[2083,10.06],[2086,10.042],[2089,10.035],[2091,10.045],[2094,10.042],[2096,10.03],[2098,10.051],[2100,10.04],[2102,10.035],[2104,10.055],[2106,10.06],[2109,10.066],[2112,10.06],[2115,10.075],[2117,10.072],[2120,10.085],[2122,10.081],[2125,10.097],[2127,10.1],[2129,10.112],[2131,10.12],[2133,10.127],[2136,10.133],[2138,10.14],[2140,10.152],[2143,10.16],[2145,10.173],[2148,10.204],[2151,10.22],[2153,10.235],[2156,10.25],[2158,10.265],[2160,10.28],[2162,10.29],[2164,10.305],[2167,10.318],[2169,10.325],[2171,10.335],[2174,10.345],[2176,10.355],[2179,10.366],[2181,10.375],[2184,10.385],[2187,10.396],[2189,10.405],[2192,10.415],[2195,10.433],[2197,10.44],[2200,10.45],[2202,10.464],[2205,10.475],[2207,10.49],[2210,10.5],
[2427,10.097],[2429,10.11],[2430,10.127],[2433,10.105],[2435,10.112],[2437,10.125],[2439,10.142],[2441,10.13],[2443,10.133],[2446,10.158],[2448,10.14],[2450,10.142],[2453,10.16],[2455,10.164],[2458,10.182],[2461,10.173],[2464,10.18],[2466,10.188],[2470,10.204],[2474,10.219],[2478,10.23],[2481,10.25],[2485,10.26],[2489,10.274],[2492,10.265],[2497,10.311],[2501,10.341],[2505,10.366],[2508,10.372],[2512,10.387],[2515,10.395],[2517,10.402],[2520,10.418],[2523,10.433],[2526,10.44],[2528,10.448],[2532,10.464],[2536,10.47],[2539,10.479],[2542,10.488],[2544,10.48]];
const H15 = [[1760,14.044],[1764,14.135],[1768,14.089],[1773,14.15],[1776,14.059],[1779,14.226],[1782,14.1],[1784,14.165],[1788,14.028],[1791,13.983],[1795,14.104],[1799,14.12],[1804,14.181],[1807,14.165],[1810,14.241],[1815,14.302],[1819,14.272],[1823,14.287],[1827,14.418],
[2043,14.211],[2047,14.241],[2050,14.348],[2052,14.47],[2055,14.074],[2058,14.089],[2063,13.998],[2067,14.059],[2071,13.983],[2074,13.922],[2078,13.83],[2083,13.891],[2086,13.967],[2089,13.937],[2094,13.861],[2095,14.181],[2098,13.846],[2102,13.876],[2105,13.922],[2109,13.967],[2114,13.891],[2117,13.937],[2120,13.967],[2125,13.922],[2129,13.998],[2133,14.013],[2136,13.967],[2140,14.059],[2145,14.074],[2148,14.089],[2151,14.226],[2156,14.211],[2160,14.257],[2164,14.317],[2167,14.302],[2171,14.363],[2176,14.5],[2179,14.333],[2182,14.424],[2187,14.47],[2191,14.47],[2195,14.394],[2198,14.591],[2202,14.561],[2207,14.698],[2210,14.607],
[2427,13.967],[2430,13.998],[2435,14.028],[2439,14.181],[2443,14.089],[2446,14.241],[2450,14.074],[2455,14.15],[2458,14.135],[2461,14.241],[2466,14.181],[2470,14.211],[2474,14.241],[2477,14.181],[2481,14.47],[2486,14.363],[2489,14.394],[2492,14.333],[2497,14.424],[2501,14.409],[2505,14.485],[2508,14.576],[2512,14.637],[2517,14.668],[2520,14.607],[2528,14.698],[2536,14.744],[2541,14.668],[2544,14.82]];
const K16 = [[2043,9.794],[2046,9.823],[2047,9.859],[2049,9.827],[2053,9.834],[2058,9.859],[2061,9.845],[2064,9.852],[2069,9.867],[2073,9.863],[2077,9.827],[2080,9.849],[2084,9.87],[2089,9.859],[2092,9.87],[2095,9.849],[2100,9.874],[2104,9.856],[2108,9.867],[2111,9.885],[2115,9.87],[2120,9.903],[2123,9.878],[2126,9.892],[2131,9.91],[2135,9.885],[2139,9.87],[2142,9.896],[2146,9.863],[2151,9.878],[2154,9.885],[2157,9.892],[2162,9.87],[2166,9.878],[2170,9.888],[2173,9.867],[2177,9.892],[2182,9.874],[2185,9.885],[2188,9.899],[2193,9.878],[2197,9.87],[2201,9.829],[2204,9.885],[2208,9.874],
[2425,9.769],[2430,9.856],[2433,9.87],[2436,9.888],[2441,9.841],[2445,9.878],[2449,9.874],[2452,9.885],[2456,9.892],[2461,9.87],[2464,9.907],[2467,9.921],[2472,9.892],[2476,9.936],[2479,9.899],[2483,9.914],[2487,9.881],[2492,9.95],[2495,9.914],[2498,9.903],[2503,9.914],[2507,9.925],[2511,9.903],[2514,9.936],[2518,9.914],[2523,9.939],[2526,9.95],[2529,9.921],[2534,9.928],[2538,9.917]];
const H16 = [[1759,12.19],[1764,12.212],[1767,12.229],[1770,12.247],[1774,12.233],[1779,12.219],[1782,12.258],[1785,12.24],[1790,12.251],[1795,12.226],[1798,12.212],[1801,12.197],[1805,12.222],[1810,12.208],[1813,12.204],[1816,12.201],[1821,12.273],[1826,12.165],
[2043,12.168],[2046,12.19],[2049,12.183],[2053,12.194],[2058,12.176],[2061,12.212],[2064,12.172],[2069,12.19],[2073,12.161],[2077,12.168],[2080,12.158],[2084,12.244],[2089,12.197],[2092,12.19],[2095,12.212],[2100,12.204],[2108,12.143],[2111,12.197],[2115,12.219],[2120,12.208],[2123,12.229],[2126,12.19],[2131,12.204],[2135,12.215],[2139,12.229],[2142,12.208],[2146,12.222],[2151,12.165],[2154,12.197],[2157,12.226],[2162,12.244],[2166,12.204],[2170,12.19],[2173,12.24],[2177,12.212],[2182,12.197],[2185,12.222],[2188,12.19],[2193,12.183],[2197,12.226],[2201,12.229],[2204,12.215],[2208,12.222],
[2430,12.161],[2433,12.19],[2436,12.201],[2441,12.219],[2445,12.226],[2449,12.233],[2452,12.229],[2456,12.237],[2461,12.244],[2464,12.229],[2467,12.24],[2472,12.251],[2476,12.247],[2479,12.233],[2483,12.226],[2487,12.222],[2492,12.291],[2495,12.233],[2498,12.24],[2503,12.309],[2507,12.28],[2511,12.247],[2514,12.269],[2518,12.24],[2523,12.226],[2526,12.212],[2529,12.24],[2534,12.269],[2538,12.255]];

const K_DATA = [K1,K2,K3,K4,K5,K6,K7,K8,K9,K10,K11,K12,K13,K14,K15,K16];
const H_DATA = [H1,H2,H3,H4,H5,H6,H7,H8,H9,H10,H11,H12,H13,H14,H15,H16];

// layout
const COLS = [114, 329, 543, 759], W = 172;
const KTOP = [6, 308, 612, 913], HTOP = [127, 430, 732, 1034], HH = 121;
const LABEL_FONT = 'Liberation Sans, Arial, Helvetica, sans-serif';

function fmt(v){ return String(+(+v).toFixed(4)); }
function minorVals(r, step, majors){
  const out=[]; const s=Math.ceil(r[0]/step-1e-9), e=Math.floor(r[1]/step+1e-9);
  for(let k=s;k<=e;k++){ const v=+(k*step).toFixed(6); if(!majors.some(m=>Math.abs(m-v)<1e-9)) out.push(v); }
  return out;
}
function xAx(gi, pos, vals, len, showLabel){
  return {gridIndex:gi, type:'value', position:pos, min:XMIN, max:XMAX,
    axisLine:{show:false, onZero:false}, splitLine:{show:false},
    axisTick:{show:true, inside:true, length:len, customValues:vals, lineStyle:{color:'#000', width:1}},
    axisLabel:{show:showLabel, customValues:vals, formatter:fmt, color:'#000', fontSize:12.5, fontFamily:LABEL_FONT, margin:5}};
}
function yAx(gi, pos, r, vals, len, showLabel){
  return {gridIndex:gi, type:'value', position:pos, min:r[0], max:r[1], inverse:true,
    axisLine:{show:false, onZero:false}, splitLine:{show:false},
    axisTick:{show:true, inside:true, length:len, customValues:vals, lineStyle:{color:'#000', width:1}},
    axisLabel:{show:showLabel, customValues:vals, formatter:fmt, color:'#000', fontSize:12.5, fontFamily:LABEL_FONT, margin:5}};
}

const grids=[], xAxes=[], yAxes=[], series=[], graphics=[];
for(let p=0;p<16;p++){
  const row=Math.floor(p/4), col=p%4;
  const bands=[
    {top:KTOP[row], h:HTOP[row]-KTOP[row], r:K_RANGE[p], t:K_TICKS[p], ms:K_MINOR[p], d:K_DATA[p], isH:false},
    {top:HTOP[row], h:HH, r:H_RANGE[p], t:H_TICKS[p], ms:H_MINOR[p], d:H_DATA[p], isH:true}
  ];
  bands.forEach(b=>{
    const gi=grids.length;
    grids.push({left:COLS[col], top:b.top, width:W, height:b.h, show:true, borderColor:'#000', borderWidth:1,
      backgroundColor:'transparent', containLabel:false, outerBoundsMode:'none'});
    const xi=xAxes.length, yi=yAxes.length;
    xAxes.push(xAx(gi,'bottom',X_TICKS,6,b.isH));
    xAxes.push(xAx(gi,'bottom',X_MINOR,3,false));
    xAxes.push(xAx(gi,'top',X_TICKS,6,false));
    xAxes.push(xAx(gi,'top',X_MINOR,3,false));
    const mv=minorVals(b.r,b.ms,b.t);
    yAxes.push(yAx(gi,'left',b.r,b.t,6,true));
    yAxes.push(yAx(gi,'left',b.r,mv,3,false));
    yAxes.push(yAx(gi,'right',b.r,b.t,6,false));
    yAxes.push(yAx(gi,'right',b.r,mv,3,false));
    series.push({type:'scatter', xAxisIndex:xi, yAxisIndex:yi, data:b.d, symbol:'rect', symbolSize:2.4,
      itemStyle:{color:'#000'}, silent:true, animation:false});
  });
  graphics.push({type:'text', x:COLS[col]+W/2, y:HTOP[row]+HH+29,
    style:{text:NAMES[p], font:'14.5px "Liberation Mono", "Courier New", monospace', fill:'#000', align:'center', verticalAlign:'middle', textAlign:'center', textVerticalAlign:'middle'}});
}
for(let row=0;row<4;row++){
  graphics.push({type:'text', x:65, y:(KTOP[row]+HTOP[row])/2+7,
    style:{text:'K', font:'25px "Liberation Serif", "Times New Roman", serif', fill:'#000', align:'center', verticalAlign:'middle', textAlign:'center', textVerticalAlign:'middle'}});
  graphics.push({type:'text', x:65, y:HTOP[row]+HH/2+7,
    style:{text:'H', font:'25px "Liberation Serif", "Times New Roman", serif', fill:'#000', align:'center', verticalAlign:'middle', textAlign:'center', textVerticalAlign:'middle'}});
}
graphics.push({type:'text', x:22, y:560, rotation:Math.PI/2,
  style:{text:'Magnitude', font:'31px "DejaVu Serif", serif', fill:'#000', align:'center', verticalAlign:'middle', textAlign:'center', textVerticalAlign:'middle'}});
graphics.push({type:'text', x:483, y:1211,
  style:{text:'HJD \u2212 2450000', font:'29px "DejaVu Serif", serif', fill:'#000', align:'center', verticalAlign:'middle', textAlign:'center', textVerticalAlign:'middle'}});

const chart = echarts.init(document.getElementById('c'), null, {renderer:'canvas'});
chart.setOption({
  animation:false, backgroundColor:'#fff',
  grid:grids, xAxis:xAxes, yAxis:yAxes, series:series, graphic:graphics
});
</script></body></html>
